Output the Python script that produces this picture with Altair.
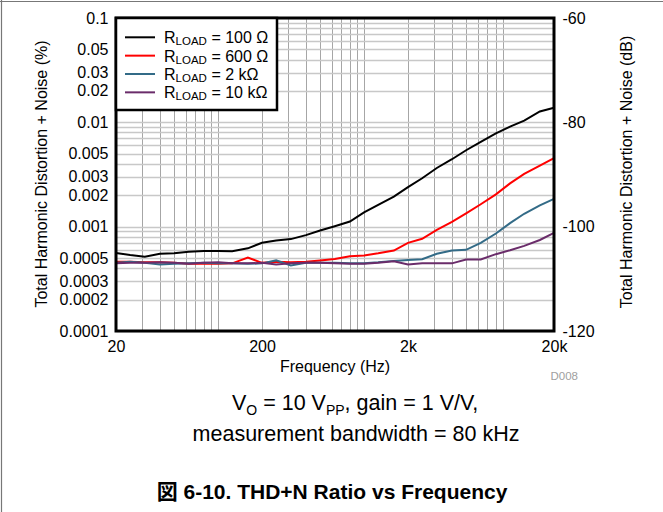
import altair as alt
import pandas as pd

FONT = "Liberation Sans, Arial, Noto Sans CJK JP"

# ---------------- data ----------------
freq = [20, 25, 31.5, 40, 50, 63, 80, 100, 125, 160, 200, 250, 315, 400, 500, 630,
        800, 1000, 1250, 1600, 2000, 2500, 3150, 4000, 5000, 6300, 8000, 10000,
        12500, 16000, 20000]

thd_100 = [5.6e-4, 5.35e-4, 5.15e-4, 5.5e-4, 5.55e-4, 5.75e-4, 5.85e-4, 5.85e-4, 5.8e-4,
           6.2e-4, 7.0e-4, 7.35e-4, 7.6e-4, 8.3e-4, 9.2e-4, 1.01e-3, 1.12e-3, 1.37e-3,
           1.62e-3, 1.94e-3, 2.39e-3, 2.91e-3, 3.65e-3, 4.43e-3, 5.4e-3, 6.5e-3,
           7.85e-3, 9.1e-3, 1.04e-2, 1.27e-2, 1.38e-2]
thd_600 = [4.6e-4, 4.6e-4, 4.55e-4, 4.55e-4, 4.5e-4, 4.4e-4, 4.4e-4, 4.4e-4, 4.45e-4,
           5.05e-4, 4.5e-4, 4.6e-4, 4.55e-4, 4.6e-4, 4.75e-4, 4.9e-4, 5.2e-4, 5.3e-4,
           5.55e-4, 5.9e-4, 7.0e-4, 7.65e-4, 9.3e-4, 1.11e-3, 1.34e-3, 1.64e-3,
           2.04e-3, 2.6e-3, 3.2e-3, 3.85e-3, 4.55e-3]
thd_2k = [4.5e-4, 4.6e-4, 4.5e-4, 4.35e-4, 4.4e-4, 4.45e-4, 4.5e-4, 4.45e-4, 4.45e-4,
          4.4e-4, 4.45e-4, 4.75e-4, 4.25e-4, 4.5e-4, 4.5e-4, 4.5e-4, 4.45e-4, 4.45e-4,
          4.55e-4, 4.7e-4, 4.8e-4, 4.87e-4, 5.5e-4, 5.9e-4, 6.0e-4, 7.0e-4, 8.6e-4,
          1.08e-3, 1.33e-3, 1.6e-3, 1.85e-3]
thd_10k = [4.45e-4, 4.5e-4, 4.5e-4, 4.55e-4, 4.5e-4, 4.4e-4, 4.5e-4, 4.55e-4, 4.45e-4,
           4.45e-4, 4.5e-4, 4.35e-4, 4.45e-4, 4.5e-4, 4.5e-4, 4.45e-4, 4.4e-4, 4.4e-4,
           4.5e-4, 4.65e-4, 4.35e-4, 4.45e-4, 4.45e-4, 4.45e-4, 4.85e-4, 4.85e-4,
           5.45e-4, 5.95e-4, 6.55e-4, 7.45e-4, 8.7e-4]

series = ["100 Ω", "600 Ω", "2 kΩ", "10 kΩ"]
colors = ["#000000", "#ff0000", "#336b87", "#6a2c6a"]
values_by_series = [thd_100, thd_600, thd_2k, thd_10k]

x_tick_values = [20, 200, 2000, 20000]
x_tick_labels = ["20", "200", "2k", "20k"]
x_grid_values = [20] + [m * 10 ** k for k in (1, 2, 3) for m in range(1, 10) if m * 10 ** k > 20] + [20000]

y_tick_values = [0.1, 0.05, 0.03, 0.02, 0.01, 0.005, 0.003, 0.002, 0.001,
                 0.0005, 0.0003, 0.0002, 0.0001]
y_tick_labels = ["0.1", "0.05", "0.03", "0.02", "0.01", "0.005", "0.003", "0.002",
                 "0.001", "0.0005", "0.0003", "0.0002", "0.0001"]
y_grid_values = [float(f"{m}e{k}") for k in (-4, -3, -2) for m in range(1, 10)] + [0.1]

db_ticks = [-60, -80, -100, -120]

rows = []
for s, vals in zip(series, values_by_series):
    for f, v in zip(freq, vals):
        rows.append({"freq": f, "thd": v, "series": s})
df = pd.DataFrame(rows)

# ---------------- geometry ----------------
W, H = 438, 313
PL, PT = 116, 18
PR, PB = 663 - PL - W, 512 - PT - H


def expr_map(vals, labels):
    e = "''"
    for v, l in reversed(list(zip(vals, labels))):
        e = f"datum.value === {v} ? '{l}' : ({e})"
    return e


one = pd.DataFrame({"d": [0]})


def text(x, y, s, size=16, **kw):
    return alt.Chart(one).mark_text(text=s, font=FONT, fontSize=size, color=kw.pop("color", "black"), **kw).encode(
        x=alt.value(x), y=alt.value(y))


lines = alt.Chart(df).mark_line(strokeWidth=2).encode(
    x=alt.X("freq:Q", scale=alt.Scale(type="log", domain=[20, 20000]),
            axis=alt.Axis(values=x_grid_values, labelExpr=expr_map(x_tick_values, x_tick_labels),
                          grid=True, gridColor="#a6a6a6", gridWidth=1, ticks=False, domain=False,
                          labelPadding=7, labelFontSize=16, labelFont=FONT, labelColor="black",
                          labelFlush=False, labelOverlap=False, title=None)),
    y=alt.Y("thd:Q", scale=alt.Scale(type="log", domain=[0.0001, 0.1]),
            axis=alt.Axis(values=y_grid_values, labelExpr=expr_map(y_tick_values, y_tick_labels),
                          grid=True, gridColor="#c8c8c8", gridWidth=1.6, ticks=False, domain=False,
                          labelPadding=8, labelFontSize=16, labelFont=FONT, labelColor="black",
                          labelFlush=False, labelOverlap=False, title=None)),
    color=alt.Color("series:N", scale=alt.Scale(domain=series, range=colors), legend=None),
)

right = alt.Chart(pd.DataFrame({"db": db_ticks})).mark_point(opacity=0).encode(
    y=alt.Y("db:Q", scale=alt.Scale(domain=[-120, -60]),
            axis=alt.Axis(orient="right", values=db_ticks, labelExpr="'' + datum.value",
                          grid=False, ticks=False, domain=False, labelPadding=8,
                          labelFontSize=16, labelFont=FONT, labelColor="black",
                          labelFlush=False, title=None)),
)

frame = alt.Chart(one).mark_rect(fillOpacity=0, stroke="black", strokeWidth=3).encode(
    x=alt.value(0), x2=alt.value(W), y=alt.value(0), y2=alt.value(H))

legend_box = alt.Chart(one).mark_rect(fill="white", stroke="black", strokeWidth=2.5).encode(
    x=alt.value(0), x2=alt.value(161), y=alt.value(0), y2=alt.value(92))

legend_layers = [legend_box]
for i, (s, c) in enumerate(zip(series, colors)):
    ly = 19.3 + i * 18.35
    legend_layers.append(alt.Chart(one).mark_rule(color=c, strokeWidth=2).encode(
        x=alt.value(9), x2=alt.value(39), y=alt.value(ly)))
    legend_layers.append(text(48, ly + 6, "R", 16, align="left", baseline="alphabetic"))
    legend_layers.append(text(59.6, ly + 8, "LOAD", 11.5, align="left", baseline="alphabetic"))
    legend_layers.append(text(95.4, ly + 6, "= " + s, 16, align="left", baseline="alphabetic"))

labels = [
    text(42 - PL, 174 - PT, "Total Harmonic Distortion + Noise (%)", 16, angle=270,
         align="center", baseline="middle"),
    text(627 - PL, 172 - PT, "Total Harmonic Distortion + Noise (dB)", 16, angle=270,
         align="center", baseline="middle"),
    text(335 - PL, 367 - PT, "Frequency (Hz)", 16, align="center", baseline="middle"),
    text(578 - PL, 380 - PT, "D008", 11.5, align="right", baseline="alphabetic", color="#a0a0a0"),
]

# note line 1 (with subscripts)
bx, by = 232 - PL, 409.5 - PT
note = [
    text(bx, by, "V", 21.5, align="left", baseline="alphabetic"),
    text(bx + 14.3, by + 5, "O", 14, align="left", baseline="alphabetic"),
    text(bx + 31.2, by, "= 10 V", 21.5, align="left", baseline="alphabetic"),
    text(bx + 93.9, by + 5, "PP", 14, align="left", baseline="alphabetic"),
    text(bx + 112.6, by, ", gain = 1 V/V,", 21.5, align="left", baseline="alphabetic"),
    text(356 - PL, 441 - PT, "measurement bandwidth = 80 kHz", 21.5, align="center",
         baseline="alphabetic"),
    text(332 - PL, 499 - PT, "図 6-10. THD+N Ratio vs Frequency", 21, align="center",
         baseline="alphabetic", fontWeight="bold"),
]

border = [
    alt.Chart(one).mark_rule(color="#777777", strokeWidth=1.2).encode(
        x=alt.value(-PL), x2=alt.value(663 - PL), y=alt.value(1.5 - PT)),
    alt.Chart(one).mark_rule(color="#777777", strokeWidth=1.2).encode(
        x=alt.value(1.5 - PL), y=alt.value(-PT), y2=alt.value(512 - PT)),
]

chart = alt.layer(lines, right, frame, *legend_layers, *labels, *note, *border).resolve_scale(
    y="independent"
).properties(
    width=W, height=H,
    autosize=alt.AutoSizeParams(type="none"),
    padding={"left": PL, "top": PT, "right": PR, "bottom": PB},
    background="white",
).configure_view(strokeWidth=0)

chart.save("out.html", embed_options={"renderer": "svg", "actions": False})
